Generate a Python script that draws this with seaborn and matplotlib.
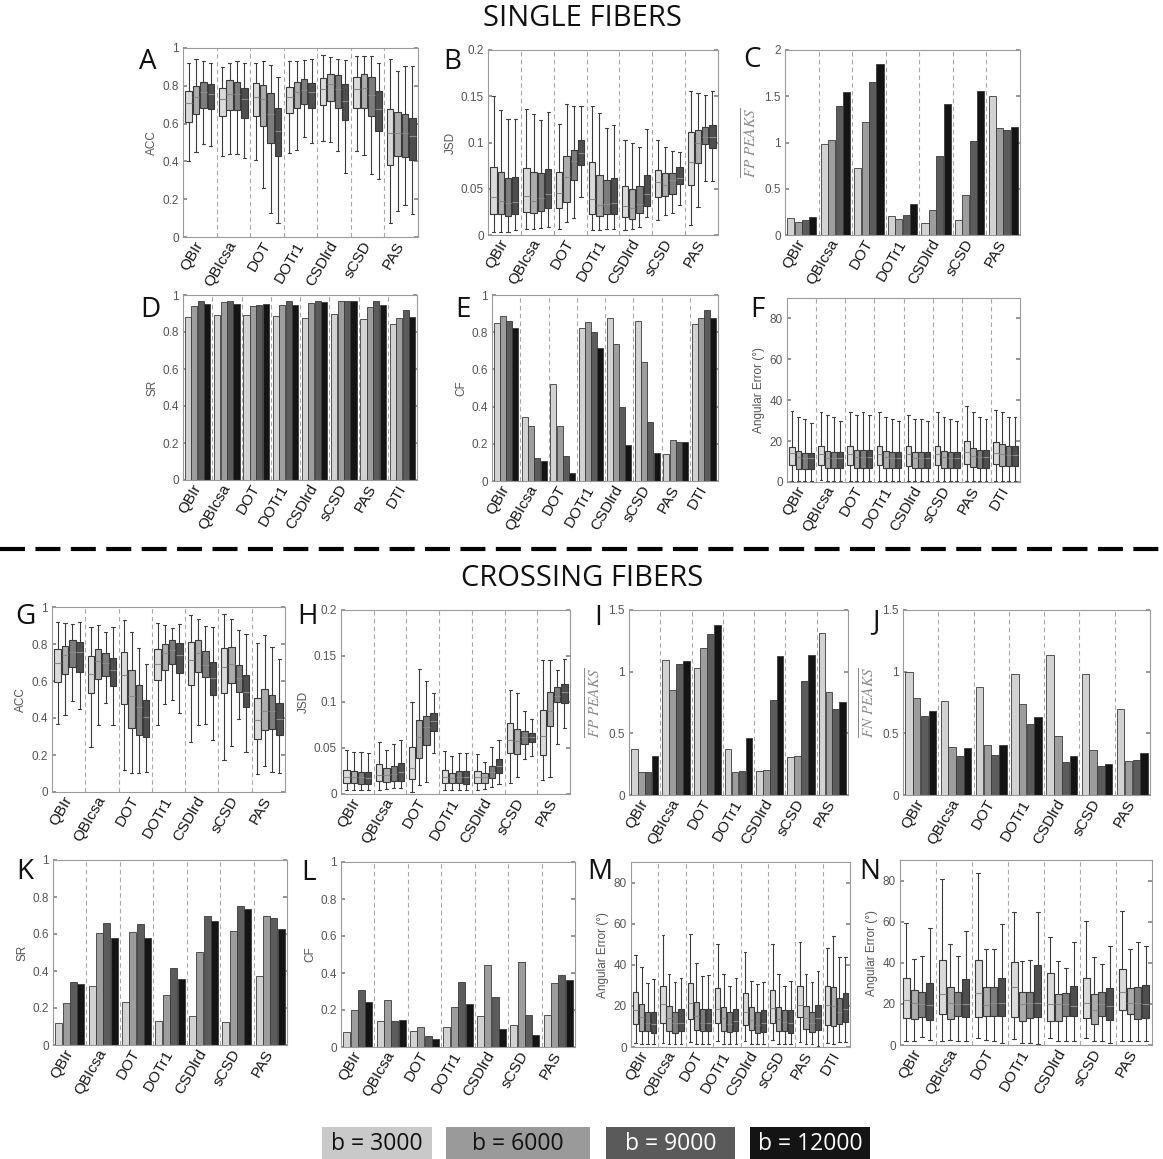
import numpy as np
import pandas as pd
import matplotlib
matplotlib.use("Agg")
import matplotlib.pyplot as plt
import seaborn as sns
from matplotlib.patches import Rectangle
from matplotlib.lines import Line2D
from matplotlib.ticker import FormatStrFormatter

# ---------------- data ----------------
methods7 = ["QBIr", "QBIcsa", "DOT", "DOTr1", "CSDlrd", "sCSD", "PAS"]
methods8 = methods7 + ["DTI"]
b_values = ["b = 3000", "b = 6000", "b = 9000", "b = 12000"]

# box statistics per method, per b value: [min, q1, median, q3, max]
acc_single = [
    [[0.40, 0.61, 0.71, 0.775, 0.92], [0.45, 0.65, 0.74, 0.80, 0.94], [0.49, 0.68, 0.765, 0.82, 0.93], [0.48, 0.675, 0.755, 0.81, 0.92]],
    [[0.43, 0.64, 0.73, 0.79, 0.90], [0.44, 0.67, 0.755, 0.83, 0.92], [0.44, 0.67, 0.755, 0.82, 0.93], [0.42, 0.63, 0.73, 0.79, 0.92]],
    [[0.405, 0.64, 0.74, 0.815, 0.92], [0.26, 0.585, 0.73, 0.805, 0.93], [0.125, 0.50, 0.65, 0.76, 0.91], [0.075, 0.43, 0.56, 0.68, 0.845]],
    [[0.445, 0.655, 0.74, 0.795, 0.93], [0.46, 0.68, 0.765, 0.82, 0.93], [0.53, 0.705, 0.78, 0.835, 0.935], [0.50, 0.68, 0.765, 0.815, 0.94]],
    [[0.51, 0.70, 0.785, 0.84, 0.965], [0.505, 0.72, 0.81, 0.865, 0.955], [0.455, 0.685, 0.785, 0.855, 0.94], [0.34, 0.62, 0.72, 0.81, 0.935]],
    [[0.455, 0.685, 0.785, 0.845, 0.96], [0.435, 0.685, 0.79, 0.86, 0.96], [0.335, 0.64, 0.75, 0.845, 0.96], [0.305, 0.56, 0.675, 0.77, 0.92]],
    [[0.075, 0.38, 0.55, 0.675, 0.94], [0.135, 0.43, 0.55, 0.66, 0.88], [0.17, 0.425, 0.55, 0.65, 0.905], [0.12, 0.405, 0.535, 0.63, 0.905]],
]
jsd_single = [
    [[0.003, 0.023, 0.041, 0.073, 0.150], [0.003, 0.0225, 0.037, 0.068, 0.135], [0.003, 0.021, 0.035, 0.062, 0.125], [0.005, 0.023, 0.036, 0.063, 0.125]],
    [[0.006, 0.025, 0.042, 0.072, 0.136], [0.007, 0.024, 0.037, 0.068, 0.131], [0.008, 0.026, 0.040, 0.067, 0.124], [0.009, 0.029, 0.044, 0.071, 0.133]],
    [[0.006, 0.029, 0.045, 0.068, 0.120], [0.014, 0.036, 0.063, 0.085, 0.142], [0.018, 0.060, 0.080, 0.092, 0.139], [0.041, 0.076, 0.089, 0.103, 0.139]],
    [[0.005, 0.023, 0.039, 0.079, 0.139], [0.005, 0.021, 0.032, 0.065, 0.132], [0.006, 0.023, 0.034, 0.059, 0.116], [0.006, 0.023, 0.035, 0.062, 0.119]],
    [[0.005, 0.020, 0.031, 0.053, 0.103], [0.006, 0.017, 0.029, 0.050, 0.099], [0.009, 0.024, 0.034, 0.053, 0.095], [0.020, 0.031, 0.044, 0.065, 0.115]],
    [[0.016, 0.041, 0.057, 0.070, 0.103], [0.022, 0.042, 0.054, 0.067, 0.095], [0.024, 0.044, 0.059, 0.067, 0.091], [0.032, 0.055, 0.062, 0.074, 0.090]],
    [[0.011, 0.054, 0.079, 0.111, 0.156], [0.030, 0.078, 0.099, 0.114, 0.153], [0.058, 0.098, 0.106, 0.117, 0.151], [0.058, 0.094, 0.106, 0.119, 0.156]],
]
fp_single = [[0.18, 0.137, 0.162, 0.195], [0.98, 1.03, 1.39, 1.55], [0.72, 1.22, 1.65, 1.85],
             [0.21, 0.17, 0.22, 0.335], [0.13, 0.27, 0.85, 1.42], [0.16, 0.43, 1.02, 1.56], [1.50, 1.16, 1.13, 1.17]]
sr_single = [[0.88, 0.94, 0.965, 0.95], [0.89, 0.96, 0.965, 0.95], [0.89, 0.94, 0.945, 0.95], [0.885, 0.945, 0.965, 0.945],
             [0.875, 0.955, 0.965, 0.96], [0.895, 0.965, 0.97, 0.97], [0.87, 0.935, 0.965, 0.945], [0.845, 0.875, 0.92, 0.88]]
cf_single = [[0.85, 0.885, 0.86, 0.825], [0.344, 0.294, 0.122, 0.105], [0.524, 0.294, 0.137, 0.041], [0.82, 0.855, 0.80, 0.717],
             [0.875, 0.739, 0.396, 0.191], [0.861, 0.64, 0.317, 0.153], [0.144, 0.22, 0.207, 0.211], [0.843, 0.874, 0.919, 0.879]]
ang_single = [
    [[0.5, 8.2, 14.0, 17.2, 34.5], [0.5, 6.6, 12.0, 15.0, 32.0], [0.5, 6.6, 11.5, 14.3, 31.0], [0.5, 6.6, 11.5, 14.3, 29.0]],
    [[1.0, 8.5, 13.5, 17.5, 34.0], [0.5, 6.8, 11.8, 15.0, 33.0], [0.5, 6.8, 11.5, 14.5, 32.0], [0.5, 6.8, 11.5, 14.5, 30.0]],
    [[0.5, 8.5, 13.5, 17.5, 34.0], [0.5, 6.8, 12.0, 15.5, 33.0], [0.5, 7.0, 12.0, 15.5, 34.0], [0.5, 7.0, 12.0, 15.5, 33.0]],
    [[0.5, 8.5, 13.5, 17.5, 34.0], [0.5, 7.0, 12.0, 15.0, 32.0], [0.5, 7.0, 11.5, 14.5, 31.0], [0.5, 7.0, 11.5, 14.5, 30.0]],
    [[0.5, 8.0, 13.5, 17.5, 33.0], [0.5, 7.0, 11.5, 14.5, 31.0], [0.5, 7.0, 11.5, 14.5, 31.0], [0.5, 7.0, 11.5, 14.5, 30.0]],
    [[0.5, 8.5, 13.5, 17.5, 34.0], [0.5, 7.0, 12.0, 15.0, 32.0], [0.5, 7.0, 11.5, 14.5, 31.0], [0.5, 7.0, 11.5, 14.5, 30.0]],
    [[0.5, 9.0, 14.5, 20.0, 37.0], [0.5, 7.5, 12.5, 16.5, 34.0], [0.5, 7.0, 12.0, 15.5, 32.0], [0.5, 7.0, 12.0, 15.5, 31.0]],
    [[0.5, 9.0, 14.0, 19.5, 35.0], [0.5, 8.0, 13.5, 18.5, 34.0], [0.5, 8.0, 13.0, 17.5, 32.0], [0.5, 8.0, 13.0, 17.5, 32.0]],
]
acc_cross = [
    [[0.37, 0.595, 0.70, 0.775, 0.92], [0.415, 0.64, 0.74, 0.79, 0.915], [0.49, 0.675, 0.755, 0.82, 0.91], [0.45, 0.65, 0.755, 0.81, 0.92]],
    [[0.245, 0.535, 0.64, 0.735, 0.89], [0.36, 0.61, 0.71, 0.775, 0.905], [0.48, 0.625, 0.70, 0.75, 0.865], [0.36, 0.575, 0.66, 0.725, 0.89]],
    [[0.117, 0.478, 0.635, 0.757, 0.93], [0.103, 0.348, 0.517, 0.657, 0.865], [0.103, 0.31, 0.46, 0.577, 0.78], [0.108, 0.30, 0.405, 0.50, 0.69]],
    [[0.364, 0.605, 0.69, 0.775, 0.915], [0.477, 0.66, 0.75, 0.80, 0.905], [0.495, 0.694, 0.765, 0.82, 0.888], [0.427, 0.643, 0.74, 0.805, 0.91]],
    [[0.27, 0.58, 0.715, 0.81, 0.955], [0.36, 0.649, 0.75, 0.823, 0.937], [0.366, 0.622, 0.685, 0.762, 0.90], [0.28, 0.526, 0.618, 0.703, 0.89]],
    [[0.175, 0.535, 0.676, 0.78, 0.964], [0.247, 0.589, 0.694, 0.784, 0.937], [0.396, 0.54, 0.618, 0.685, 0.877], [0.216, 0.459, 0.54, 0.634, 0.856]],
    [[0.10, 0.288, 0.387, 0.51, 0.805], [0.139, 0.333, 0.436, 0.555, 0.85], [0.108, 0.342, 0.436, 0.522, 0.784], [0.103, 0.306, 0.396, 0.483, 0.72]],
]
jsd_cross = [
    [[0.004, 0.012, 0.019, 0.026, 0.048], [0.004, 0.012, 0.018, 0.025, 0.046], [0.004, 0.011, 0.018, 0.024, 0.046], [0.004, 0.011, 0.017, 0.024, 0.045]],
    [[0.004, 0.014, 0.021, 0.033, 0.057], [0.005, 0.013, 0.021, 0.028, 0.048], [0.006, 0.014, 0.022, 0.030, 0.054], [0.007, 0.014, 0.024, 0.034, 0.059]],
    [[0.002, 0.016, 0.028, 0.051, 0.100], [0.010, 0.039, 0.062, 0.080, 0.136], [0.013, 0.053, 0.073, 0.085, 0.123], [0.045, 0.069, 0.079, 0.088, 0.110]],
    [[0.004, 0.012, 0.019, 0.026, 0.047], [0.004, 0.012, 0.017, 0.023, 0.041], [0.004, 0.012, 0.018, 0.025, 0.045], [0.004, 0.011, 0.018, 0.025, 0.045]],
    [[0.004, 0.012, 0.019, 0.025, 0.044], [0.005, 0.012, 0.018, 0.023, 0.035], [0.008, 0.017, 0.024, 0.030, 0.051], [0.011, 0.023, 0.030, 0.038, 0.059]],
    [[0.012, 0.045, 0.059, 0.077, 0.113], [0.018, 0.043, 0.058, 0.071, 0.110], [0.038, 0.054, 0.062, 0.068, 0.090], [0.041, 0.056, 0.062, 0.066, 0.082]],
    [[0.015, 0.042, 0.063, 0.091, 0.146], [0.018, 0.074, 0.090, 0.111, 0.146], [0.054, 0.100, 0.107, 0.116, 0.135], [0.072, 0.099, 0.111, 0.120, 0.147]],
]
fp_cross = [[0.374, 0.19, 0.19, 0.315], [1.098, 0.849, 1.066, 1.085], [1.033, 1.193, 1.305, 1.378], [0.369, 0.19, 0.198, 0.461],
            [0.198, 0.206, 0.768, 1.128], [0.306, 0.315, 0.922, 1.139], [1.315, 0.835, 0.694, 0.754]]
fn_cross = [[1.0, 0.787, 0.64, 0.678], [0.762, 0.388, 0.315, 0.38], [0.876, 0.407, 0.325, 0.407], [0.985, 0.735, 0.578, 0.632],
            [1.139, 0.475, 0.266, 0.32], [0.979, 0.366, 0.233, 0.252], [0.70, 0.274, 0.285, 0.34]]
sr_cross = [[0.117, 0.228, 0.341, 0.329], [0.318, 0.607, 0.662, 0.58], [0.233, 0.61, 0.655, 0.58], [0.129, 0.269, 0.417, 0.359],
            [0.158, 0.503, 0.70, 0.668], [0.124, 0.614, 0.754, 0.734], [0.373, 0.697, 0.684, 0.628]]
cf_cross = [[0.079, 0.198, 0.31, 0.243], [0.139, 0.256, 0.139, 0.144], [0.088, 0.108, 0.061, 0.045], [0.108, 0.214, 0.35, 0.234],
            [0.166, 0.445, 0.268, 0.097], [0.117, 0.458, 0.171, 0.067], [0.171, 0.346, 0.387, 0.36]]
ang_cross = [
    [[2.0, 11.4, 18.0, 26.6, 45.0], [1.6, 7.7, 14.7, 20.9, 38.7], [1.6, 7.7, 11.8, 17.1, 31.0], [1.6, 7.0, 11.4, 17.1, 33.0]],
    [[2.0, 11.9, 20.9, 29.7, 54.7], [1.6, 7.7, 13.9, 19.9, 35.6], [1.6, 7.0, 11.8, 17.1, 31.8], [1.6, 7.7, 11.8, 18.4, 33.8]],
    [[2.5, 13.4, 21.5, 31.0, 55.2], [1.6, 8.2, 15.2, 21.7, 40.8], [1.6, 7.7, 11.8, 18.4, 34.3], [1.6, 7.7, 11.8, 18.4, 34.8]],
    [[3.0, 11.8, 18.3, 28.6, 50.0], [1.6, 7.7, 13.9, 19.3, 35.4], [1.6, 7.3, 11.4, 16.8, 29.7], [1.6, 7.7, 12.7, 18.4, 33.5]],
    [[3.0, 10.6, 17.1, 26.1, 46.0], [1.6, 8.2, 13.1, 19.3, 32.3], [1.6, 6.9, 10.9, 16.8, 30.5], [1.6, 7.3, 11.8, 18.0, 31.8]],
    [[3.3, 11.8, 18.8, 27.8, 50.0], [1.6, 7.7, 13.4, 19.3, 35.4], [1.6, 7.7, 12.2, 18.0, 29.7], [1.6, 7.0, 11.8, 18.0, 32.2]],
    [[2.5, 14.4, 20.4, 29.7, 51.0], [1.6, 8.7, 13.9, 19.9, 35.4], [1.6, 7.3, 11.8, 16.8, 31.8], [0.3, 8.5, 13.9, 20.4, 37.0]],
    [[2.0, 10.9, 20.4, 29.7, 48.2], [1.6, 10.3, 20.1, 29.0, 54.2], [2.5, 11.4, 17.1, 24.0, 43.6], [2.5, 12.2, 18.4, 26.1, 43.6]],
]
ang_cross2 = [
    [[2.1, 13.3, 22.1, 32.5, 59.5], [1.8, 12.8, 20.2, 26.7, 41.8], [4.0, 13.6, 19.8, 25.9, 43.1], [2.5, 12.0, 19.3, 30.3, 56.7]],
    [[1.8, 15.2, 25.0, 41.5, 81.0], [2.5, 12.8, 20.5, 28.0, 49.3], [2.1, 14.1, 19.8, 25.9, 43.1], [1.8, 13.6, 19.8, 32.0, 55.4]],
    [[3.4, 13.6, 25.4, 41.5, 83.8], [2.5, 14.1, 19.7, 28.0, 46.9], [2.1, 14.1, 20.2, 28.0, 46.9], [1.0, 14.1, 20.2, 32.8, 59.0]],
    [[3.0, 13.6, 28.0, 40.2, 64.8], [1.0, 11.6, 19.8, 25.9, 41.1], [0.8, 13.3, 20.2, 25.9, 41.5], [0.5, 13.6, 20.2, 39.0, 64.8]],
    [[3.4, 11.6, 19.8, 34.9, 52.6], [1.8, 11.6, 19.8, 24.8, 41.0], [2.1, 14.1, 19.8, 25.1, 37.7], [2.1, 14.1, 18.9, 28.7, 50.2]],
    [[3.4, 13.3, 20.5, 32.5, 60.3], [2.1, 10.0, 16.9, 24.8, 43.0], [1.8, 13.9, 19.8, 25.9, 39.3], [1.0, 12.0, 19.0, 27.5, 48.0]],
    [[2.1, 16.9, 25.6, 37.0, 65.2], [2.1, 14.9, 20.5, 27.5, 46.9], [1.8, 12.8, 20.2, 28.0, 50.2], [2.0, 13.0, 20.0, 29.0, 48.0]],
]

# ---------------- style ----------------
sns.set_theme(style="white")
plt.rcParams["font.family"] = ["Liberation Sans", "DejaVu Sans"]
plt.rcParams["mathtext.fontset"] = "stix"

box_pal = ["#dadada", "#acacac", "#7d7d7d", "#4e4e4e"]
bar_pal = ["#d2d2d2", "#9d9d9d", "#5c5c5c", "#141414"]

W, H = 1163, 1159
fig = plt.figure(figsize=(W / 100, H / 100), dpi=100)


def add_ax(l, t, r, b):
    return fig.add_axes([l / W, 1 - b / H, (r - l) / W, (b - t) / H])


def box_df(stats, methods):
    rows = []
    for m, per_b in zip(methods, stats):
        for b, s in zip(b_values, per_b):
            for v in s:
                rows.append((m, b, v))
    return pd.DataFrame(rows, columns=["method", "b", "value"])


def bar_df(vals, methods):
    rows = [(m, b, v) for m, per_b in zip(methods, vals) for b, v in zip(b_values, per_b)]
    return pd.DataFrame(rows, columns=["method", "b", "value"])


def style(ax, methods, ylim, yticks, ylabel, fmt="%g", serif=False):
    ax.set_xlim(-0.5, len(methods) - 0.5)
    ax.set_ylim(*ylim)
    ax.set_yticks(yticks)
    ax.yaxis.set_major_formatter(FormatStrFormatter(fmt))
    ax.set_xticks(range(len(methods)))
    ax.set_xticklabels(methods, rotation=60, ha="right", va="center",
                       rotation_mode="anchor", fontsize=11, color="#151515")
    ax.tick_params(axis="x", length=0, pad=4)
    ax.tick_params(axis="y", direction="in", length=3, right=True, left=True,
                   labelsize=8.5, labelcolor="#555555", color="#888888", pad=3)
    for s in ax.spines.values():
        s.set_visible(True)
        s.set_color("#9a9a9a")
        s.set_linewidth(0.8)
    for i in range(len(methods) - 1):
        ax.axvline(i + 0.5, ls=(0, (4, 3)), color="#a8a8a8", lw=0.8, zorder=0)
    ax.set_xlabel("")
    if serif:
        ax.set_ylabel(ylabel, fontsize=11, color="#8a8a8a", labelpad=3)
    else:
        ax.set_ylabel(ylabel, fontsize=8.5, color="#555555", labelpad=3)


def draw_box(ax, stats, methods):
    sns.boxplot(data=box_df(stats, methods), x="method", y="value", hue="b",
                hue_order=b_values, order=methods, palette=box_pal, saturation=1,
                whis=(0, 100), width=0.88, gap=0.12, linewidth=0.8, linecolor="#3a3a3a",
                showfliers=False, legend=False, ax=ax,
                medianprops=dict(color="#8a8a8a", linewidth=0.8))


def draw_bar(ax, vals, methods):
    sns.barplot(data=bar_df(vals, methods), x="method", y="value", hue="b",
                hue_order=b_values, order=methods, palette=bar_pal, saturation=1,
                width=0.88, gap=0.04, errorbar=None, edgecolor="#3a3a3a",
                linewidth=0.6, legend=False, ax=ax)


fp_label = r"$\overline{FP\ PEAKS}$"
fn_label = r"$\overline{FN\ PEAKS}$"
ang_label = "Angular Error (°)"

# Single fibers
ax = add_ax(183, 48, 418, 237); draw_box(ax, acc_single, methods7)
style(ax, methods7, (0, 1), np.arange(0, 1.01, 0.2), "ACC")
ax = add_ax(488, 50, 718, 235); draw_box(ax, jsd_single, methods7)
style(ax, methods7, (0, 0.2), np.arange(0, 0.201, 0.05), "JSD")
ax = add_ax(785, 50, 1020, 235); draw_bar(ax, fp_single, methods7)
style(ax, methods7, (0, 2), np.arange(0, 2.01, 0.5), fp_label, serif=True)
ax = add_ax(183, 295, 417, 480); draw_bar(ax, sr_single, methods8)
style(ax, methods8, (0, 1), np.arange(0, 1.01, 0.2), "SR")
ax = add_ax(492, 295, 718, 481); draw_bar(ax, cf_single, methods8)
style(ax, methods8, (0, 1), np.arange(0, 1.01, 0.2), "CF")
ax = add_ax(787, 298, 1020, 482); draw_box(ax, ang_single, methods8)
style(ax, methods8, (0, 90), np.arange(0, 81, 20), ang_label)

# Crossing fibers
ax = add_ax(52, 607, 285, 792); draw_box(ax, acc_cross, methods7)
style(ax, methods7, (0, 1), np.arange(0, 1.01, 0.2), "ACC")
ax = add_ax(341, 610, 570, 794); draw_box(ax, jsd_cross, methods7)
style(ax, methods7, (0, 0.2), np.arange(0, 0.201, 0.05), "JSD")
ax = add_ax(629, 610, 848, 795); draw_bar(ax, fp_cross, methods7)
style(ax, methods7, (0, 1.5), np.arange(0, 1.51, 0.5), fp_label, serif=True)
ax = add_ax(903, 610, 1150, 795); draw_bar(ax, fn_cross, methods7)
style(ax, methods7, (0, 1.5), np.arange(0, 1.51, 0.5), fn_label, serif=True)
ax = add_ax(53, 860, 287, 1045); draw_bar(ax, sr_cross, methods7)
style(ax, methods7, (0, 1), np.arange(0, 1.01, 0.2), "SR")
ax = add_ax(341, 862, 575, 1047); draw_bar(ax, cf_cross, methods7)
style(ax, methods7, (0, 1), np.arange(0, 1.01, 0.2), "CF")
ax = add_ax(631, 862, 850, 1047); draw_box(ax, ang_cross, methods8)
style(ax, methods8, (0, 90), np.arange(0, 81, 20), ang_label)
ax = add_ax(900, 860, 1152, 1045); draw_box(ax, ang_cross2, methods7)
style(ax, methods7, (0, 90), np.arange(0, 81, 20), ang_label)

# panel letters
letters = [("A", 148, 62), ("B", 452, 62), ("C", 752, 60), ("D", 150, 310), ("E", 463, 310),
           ("F", 757, 310), ("G", 25, 617), ("H", 308, 617), ("I", 598, 618), ("J", 876, 622),
           ("K", 25, 872), ("L", 308, 873), ("M", 600, 872), ("N", 870, 872)]
for s, x, y in letters:
    fig.text(x / W, 1 - y / H, s, fontsize=20, family=["Open Sans", "DejaVu Sans"],
             ha="center", va="center", color="#111111")

# section titles
fig.text(582 / W, 1 - 19 / H, "SINGLE FIBERS", fontsize=21, family=["Open Sans", "DejaVu Sans"],
         ha="center", va="center", color="#111111")
fig.text(582 / W, 1 - 579 / H, "CROSSING FIBERS", fontsize=21, family=["Open Sans", "DejaVu Sans"],
         ha="center", va="center", color="#111111")

# separator dashed line
fig.add_artist(Line2D([0, 1], [1 - 549 / H, 1 - 549 / H], transform=fig.transFigure,
                      color="black", lw=3, dashes=(6, 2.5)))

# legend boxes
leg_boxes = [(322, 432, "#c9c9c9", "#111111"), (446, 590, "#9a9a9a", "#111111"),
             (606, 735, "#5a5a5a", "white"), (750, 870, "#141414", "white")]
for (l, r, fc, tc), lab in zip(leg_boxes, b_values):
    fig.add_artist(Rectangle((l / W, 0), (r - l) / W, 32 / H, transform=fig.transFigure,
                             facecolor=fc, edgecolor="none"))
    fig.text((l + r) / 2 / W, 15 / H, lab, fontsize=16.5, family=["Open Sans", "DejaVu Sans"],
             ha="center", va="center", color=tc)

fig.savefig("out.png", dpi=100, facecolor="white")
